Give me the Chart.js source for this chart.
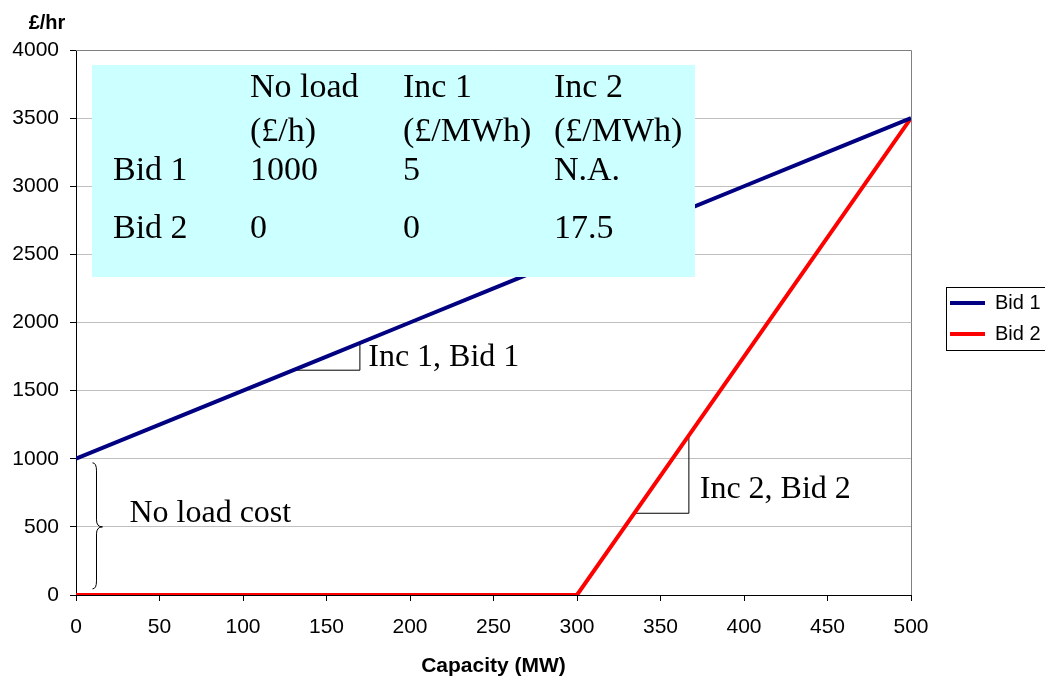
<!DOCTYPE html>
<html>
<head>
<meta charset="utf-8">
<title>Bid cost curves</title>
<script src="https://cdn.jsdelivr.net/npm/chart.js@4.4.1/dist/chart.umd.min.js"></script>
<style>
  html, body { margin: 0; padding: 0; background: #fff; }
  #bidChart { display: block; }
</style>
</head>
<body>
<canvas id="bidChart" width="1045" height="679"></canvas>
<script>
// capacity (MW) and hourly cost of each bid (£/hr)
const capacity = [0, 50, 100, 150, 200, 250, 300, 350, 400, 450, 500];
const bid1Cost = [1000, 1250, 1500, 1750, 2000, 2250, 2500, 2750, 3000, 3250, 3500];
const bid2Cost = [0, 0, 0, 0, 0, 0, 0, 875, 1750, 2625, 3500];
const seriesNames = ['Bid 1', 'Bid 2'];

// bid parameters shown in the box
const tableHead1 = ['', 'No load', 'Inc 1', 'Inc 2'];
const tableHead2 = ['', '(£/h)', '(£/MWh)', '(£/MWh)'];
const tableBid1 = ['Bid 1', '1000', '5', 'N.A.'];
const tableBid2 = ['Bid 2', '0', '0', '17.5'];

// slope markers under each incremental section
const inc1MarkX = [130, 170, 170];
const inc1MarkY = [1650, 1650, 1850];
const inc2MarkX = [334, 367, 367];
const inc2MarkY = [600, 600, 1172];

const serif = "'Liberation Serif', 'Times New Roman', serif";
Chart.defaults.font.family = "'Liberation Sans', Arial, sans-serif";
Chart.defaults.color = '#000';

const toPoints = (xs, ys) => xs.map((x, i) => ({ x: x, y: ys[i] }));

const bidData = {
    datasets: [
        {
            label: seriesNames[0],
            data: toPoints(capacity, bid1Cost),
            borderColor: '#000080',
            backgroundColor: '#000080',
            borderWidth: 4,
            pointRadius: 0
        },
        {
            label: seriesNames[1],
            data: toPoints(capacity, bid2Cost),
            borderColor: '#ff0000',
            backgroundColor: '#ff0000',
            borderWidth: 4,
            pointRadius: 0
        },
        {
            label: 'inc1',
            data: toPoints(inc1MarkX, inc1MarkY),
            borderColor: '#000',
            borderWidth: 1,
            pointRadius: 0
        },
        {
            label: 'inc2',
            data: toPoints(inc2MarkX, inc2MarkY),
            borderColor: '#000',
            borderWidth: 1,
            pointRadius: 0
        }
    ]
};

// frame, brace, notes, parameter table and legend box
const overlayPlugin = {
    id: 'overlay',
    afterLayout(chart) {
        const lg = chart.legend, a = chart.chartArea;
        const w = lg.width, h = lg.height;
        lg.left = a.right + 28;
        lg.right = lg.left + w;
        lg.top = 282;
        lg.bottom = lg.top + h;
    },
    beforeDatasetsDraw(chart) {
        const ctx = chart.ctx, a = chart.chartArea;
        ctx.save();
        ctx.strokeStyle = '#808080';
        ctx.lineWidth = 1;
        ctx.beginPath();
        ctx.moveTo(a.left, a.top + 0.5);
        ctx.lineTo(a.right + 0.5, a.top + 0.5);
        ctx.lineTo(a.right + 0.5, a.bottom);
        ctx.stroke();
        ctx.restore();
    },
    afterDatasetsDraw(chart) {
        const ctx = chart.ctx, a = chart.chartArea;
        const xs = chart.scales.x, ys = chart.scales.y;
        ctx.save();

        // brace spanning the no load cost
        const bx = Math.round(xs.getPixelForValue(12)) + 0.5;
        const top = ys.getPixelForValue(970), mid = ys.getPixelForValue(500), bot = ys.getPixelForValue(45);
        ctx.strokeStyle = '#000';
        ctx.lineWidth = 1;
        ctx.beginPath();
        ctx.moveTo(bx - 4, top);
        ctx.quadraticCurveTo(bx, top, bx, top + 8);
        ctx.lineTo(bx, mid - 7);
        ctx.quadraticCurveTo(bx, mid, bx + 6, mid);
        ctx.quadraticCurveTo(bx, mid, bx, mid + 7);
        ctx.lineTo(bx, bot - 8);
        ctx.quadraticCurveTo(bx, bot, bx - 4, bot);
        ctx.stroke();

        // notes
        ctx.fillStyle = '#000';
        ctx.font = '32px ' + serif;
        ctx.textAlign = 'left';
        ctx.textBaseline = 'middle';
        ctx.fillText('No load cost', xs.getPixelForValue(32), ys.getPixelForValue(600));
        ctx.fillText('Inc 1, Bid 1', xs.getPixelForValue(175), ys.getPixelForValue(1740));
        ctx.fillText('Inc 2, Bid 2', xs.getPixelForValue(373.5), ys.getPixelForValue(770));

        // parameter table
        const tx = a.left + 16, ty = a.top + 15;
        ctx.fillStyle = '#ccffff';
        ctx.fillRect(tx, ty, 603, 212);
        ctx.fillStyle = '#000';
        ctx.font = '34px ' + serif;
        const cols = [21, 158, 311, 462];
        const rows = [23, 67, 106, 164];
        [tableHead1, tableHead2, tableBid1, tableBid2].forEach((row, r) => {
            row.forEach((cell, c) => {
                if (cell) ctx.fillText(cell, tx + cols[c], ty + rows[r]);
            });
        });
        ctx.restore();
    },
    afterDraw(chart) {
        const ctx = chart.ctx, a = chart.chartArea;
        ctx.save();
        // y axis unit
        ctx.fillStyle = '#000';
        ctx.font = "bold 20px 'Liberation Sans', Arial, sans-serif";
        ctx.textAlign = 'center';
        ctx.textBaseline = 'middle';
        ctx.fillText('£/hr', a.left - 29, a.top - 27);

        // legend frame
        const boxes = chart.legend.legendHitBoxes;
        if (boxes && boxes.length) {
            const first = boxes[0], last = boxes[boxes.length - 1];
            const y0 = first.top + first.height / 2 - 16;
            const y1 = last.top + last.height / 2 + 16;
            ctx.strokeStyle = '#000';
            ctx.lineWidth = 1;
            ctx.strokeRect(Math.round(first.left - 4) + 0.5, Math.round(y0) + 0.5, 200, Math.round(y1 - y0));
        }
        ctx.restore();
    }
};

const bidConfig = {
    type: 'line',
    data: bidData,
    options: {
        responsive: false,
        animation: false,
        devicePixelRatio: 1,
        layout: {
            padding: { left: 0, top: 50, right: 134, bottom: 0 }
        },
        plugins: {
            tooltip: { enabled: false },
            legend: {
                position: 'chartArea',
                align: 'start',
                labels: {
                    boxWidth: 35,
                    boxHeight: 4,
                    padding: 11,
                    color: '#000',
                    font: { size: 20 },
                    filter: item => item.datasetIndex < 2,
                    generateLabels(chart) {
                        const items = Chart.defaults.plugins.legend.labels.generateLabels(chart);
                        items.forEach(item => { item.lineWidth = 0; });
                        return items;
                    }
                }
            }
        },
        scales: {
            x: {
                type: 'linear',
                min: 0,
                max: 500,
                afterFit(scale) { scale.height = 84; },
                grid: { drawOnChartArea: false, drawTicks: true, tickLength: 6, tickColor: '#000' },
                border: { color: '#000', width: 1 },
                ticks: {
                    stepSize: 50, padding: 14, maxRotation: 0, font: { size: 21 }, color: '#000',
                    callback: v => String(v)
                },
                title: {
                    display: true,
                    text: 'Capacity (MW)',
                    color: '#000',
                    font: { size: 21, weight: 'bold' },
                    padding: { top: 4, bottom: 0 }
                }
            },
            y: {
                min: 0,
                max: 4000,
                afterFit(scale) { scale.width = 76; },
                grid: { color: '#c0c0c0', tickLength: 6, tickColor: '#000' },
                border: { color: '#000', width: 1 },
                ticks: {
                    stepSize: 500, padding: 11, font: { size: 21 }, color: '#000',
                    callback: v => String(v)
                }
            }
        }
    },
    plugins: [overlayPlugin]
};

window.onload = function () {
    const ctx = document.getElementById('bidChart').getContext('2d');
    new Chart(ctx, bidConfig);
};
</script>
</body>
</html>
